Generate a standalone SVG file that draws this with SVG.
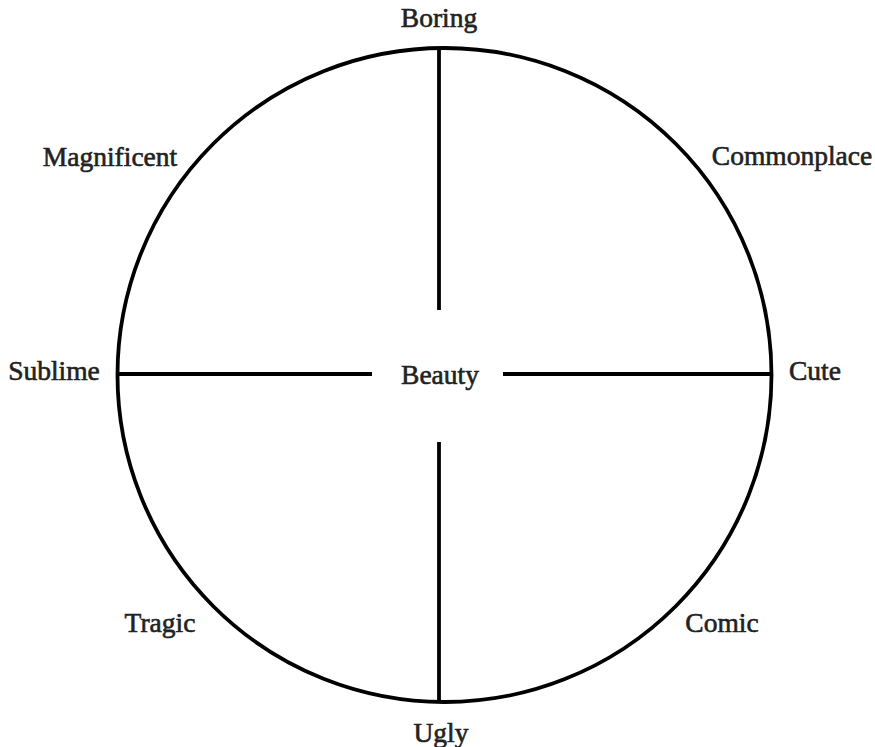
<svg xmlns="http://www.w3.org/2000/svg" width="875" height="747" viewBox="0 0 875 747">
<style>
.lbl{font-family:"Liberation Serif","Times New Roman",serif;font-size:27.5px;fill:#222;text-anchor:middle;stroke:#222;stroke-width:0.6px}
.ln{stroke:#000;stroke-width:3.8;fill:none}
</style>
<rect width="875" height="747" fill="#fff"/>
<g id="connectors">
<circle class="ln" cx="444.5" cy="375" r="327"/>
<line class="ln" x1="439" y1="48" x2="439" y2="310"/>
<line class="ln" x1="439" y1="442" x2="439" y2="702"/>
<line class="ln" x1="118" y1="374" x2="372" y2="374"/>
<line class="ln" x1="503" y1="374" x2="772" y2="374"/>
</g>
<g id="beauty"><text class="lbl" x="440" y="384">Beauty</text></g>
<g id="boring"><text class="lbl" x="439" y="27">Boring</text></g>
<g id="magnificent"><text class="lbl" x="110" y="166">Magnificent</text></g>
<g id="commonplace"><text class="lbl" x="792" y="165">Commonplace</text></g>
<g id="sublime"><text class="lbl" x="54" y="380">Sublime</text></g>
<g id="cute"><text class="lbl" x="815" y="380">Cute</text></g>
<g id="tragic"><text class="lbl" x="160" y="632">Tragic</text></g>
<g id="comic"><text class="lbl" x="722" y="632">Comic</text></g>
<g id="ugly"><text class="lbl" x="441" y="742">Ugly</text></g>
</svg>
